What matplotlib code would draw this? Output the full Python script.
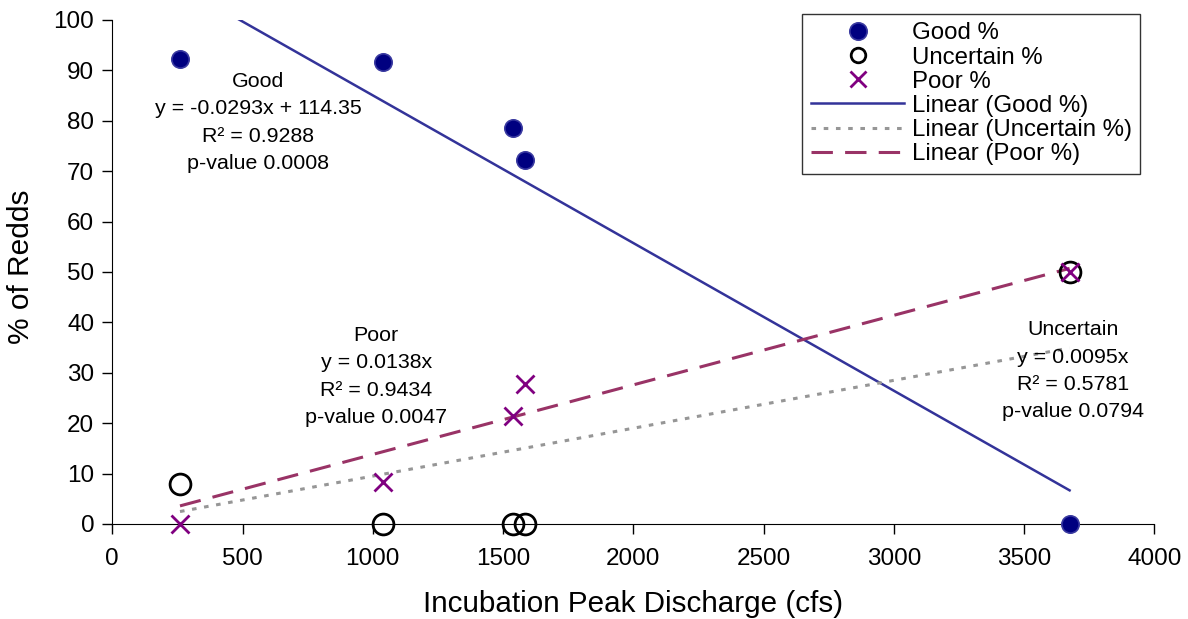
# redds_vs_discharge.py
# % of redds by condition against incubation peak discharge, with linear trendlines

import matplotlib.pyplot as plt
import numpy as np

plt.rcParams['font.family'] = ['Liberation Sans', 'DejaVu Sans']

# data
discharge = [260, 1040, 1540, 1585, 3675]
good = [92.3, 91.7, 78.6, 72.2, 0.0]
uncertain = [8.0, 0.0, 0.0, 0.0, 50.0]
poor = [0.0, 8.3, 21.4, 27.8, 50.0]

# trendline coefficients (slope, intercept) as printed on the chart
good_fit = (-0.0293, 114.35)
uncertain_fit = (0.0095, 0.0)
poor_fit = (0.0138, 0.0)

x_ticks = [0, 500, 1000, 1500, 2000, 2500, 3000, 3500, 4000]
y_ticks = [0, 10, 20, 30, 40, 50, 60, 70, 80, 90, 100]

fig = plt.figure(figsize=(11.88, 6.19), dpi=100)
ax = fig.add_axes([0.0945, 0.1535, 0.9716 - 0.0945, 0.9677 - 0.1535])

xs = np.array([min(discharge), max(discharge)])

ax.plot(discharge, good, 'o', color='#000080', markeredgecolor='#3a3aa0',
        markeredgewidth=1.2, markersize=12.5, label='Good %', zorder=4, clip_on=False)
ax.plot(discharge, uncertain, 'o', markerfacecolor='none', markeredgecolor='black',
        markeredgewidth=2, markersize=15, label='Uncertain %', zorder=4, clip_on=False)
ax.plot(discharge, poor, 'x', color='#800080', markeredgewidth=2,
        markersize=13, label='Poor %', zorder=5, clip_on=False)

ax.plot(xs, good_fit[0] * xs + good_fit[1], '-', color='#333399', lw=1.8,
        label='Linear (Good %)', zorder=3)
ax.plot(xs, uncertain_fit[0] * xs + uncertain_fit[1], color='#969696', lw=2.2,
        linestyle=(0, (1.5, 2.5)), label='Linear (Uncertain %)', zorder=3)
ax.plot(xs, poor_fit[0] * xs + poor_fit[1], color='#993366', lw=2.2,
        linestyle=(0, (7, 4)), label='Linear (Poor %)', zorder=3)

ax.set_xlim(0, 4000)
ax.set_ylim(0, 100)
ax.set_xticks(x_ticks)
ax.set_yticks(y_ticks)
ax.tick_params(labelsize=17.5, length=7, width=1, color='black', pad=6)
ax.tick_params(axis='x', pad=10)
for s in ['top', 'right']:
    ax.spines[s].set_visible(False)

ax.set_xlabel('Incubation Peak Discharge (cfs)', fontsize=21.3, labelpad=15)
ax.set_ylabel('% of Redds', fontsize=21.5)
ax.yaxis.set_label_coords(-0.074, 0.51)

txt = dict(fontsize=15.4, ha='center', va='center', linespacing=1.56)
ax.text(560, 79.7, 'Good\ny = -0.0293x + 114.35\nR² = 0.9288\np-value 0.0008', **txt)
ax.text(1013, 29.3, 'Poor\ny = 0.0138x\nR² = 0.9434\np-value 0.0047', **txt)
ax.text(3688, 30.4, 'Uncertain\ny = 0.0095x\nR² = 0.5781\np-value 0.0794', **txt)

leg = ax.legend(loc='upper right', bbox_to_anchor=(1140 / 1188, 1 - 14 / 619),
                bbox_transform=fig.transFigure, borderaxespad=0, fontsize=17.3,
                frameon=True, fancybox=False, edgecolor='#333333', framealpha=1,
                handlelength=3.9, handletextpad=0.3, labelspacing=0.09,
                borderpad=0.35)
leg.get_frame().set_linewidth(1)
# legend markers are drawn at their own sizes in the original
for h, ms in zip(leg.legend_handles[:3], [12.5, 10.5, 11.5]):
    h.set_markersize(ms)

fig.savefig('out.png', dpi=100)
